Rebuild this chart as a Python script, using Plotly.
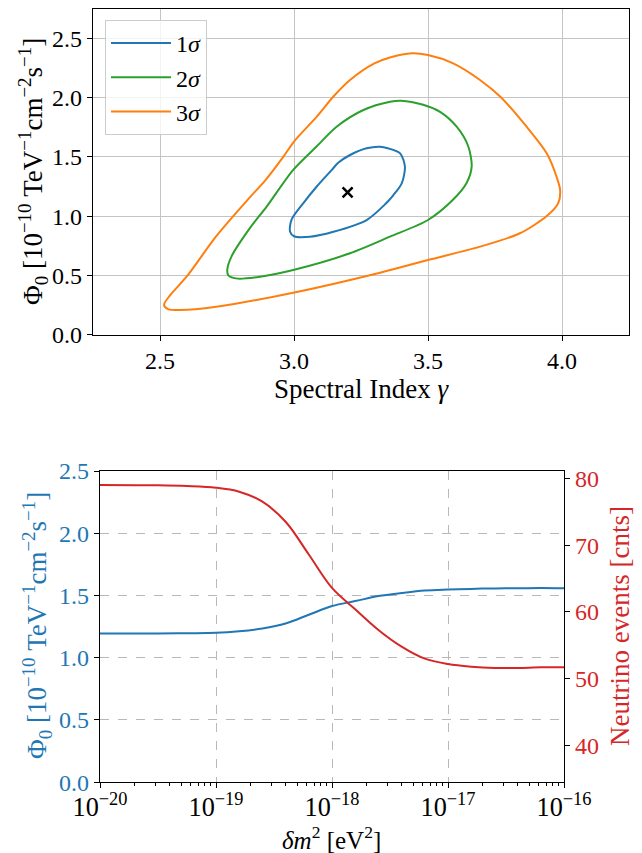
import plotly.graph_objects as go

W, H = 642, 853

# ---------------- top panel: confidence contours ----------------
gamma_1s = [2.985, 2.991, 3.035, 3.085, 3.141, 3.165, 3.209, 3.271, 3.321, 3.350, 3.396, 3.414, 3.402, 3.371, 3.340, 3.271, 3.147, 3.060, 3.000, 2.985]
phi_1s   = [0.870, 0.970, 1.110, 1.250, 1.390, 1.450, 1.516, 1.573, 1.586, 1.573, 1.530, 1.417, 1.277, 1.178, 1.100, 0.967, 0.868, 0.826, 0.830, 0.870]

gamma_2s = [2.751, 2.767, 2.836, 2.898, 2.997, 3.085, 3.159, 3.259, 3.358, 3.400, 3.482, 3.545, 3.607, 3.650, 3.663, 3.644, 3.594, 3.500, 3.358, 3.209, 2.997, 2.873, 2.790, 2.755, 2.751]
phi_2s   = [0.545, 0.660, 0.900, 1.080, 1.390, 1.590, 1.755, 1.896, 1.966, 1.975, 1.940, 1.880, 1.755, 1.590, 1.420, 1.280, 1.140, 0.967, 0.826, 0.686, 0.545, 0.488, 0.472, 0.500, 0.545]

gamma_3s = [2.515, 2.537, 2.600, 2.710, 2.836, 2.892, 2.960, 3.000, 3.085, 3.147, 3.209, 3.300, 3.358, 3.440, 3.500, 3.594, 3.694, 3.769, 3.868, 3.943, 3.980, 3.993, 3.986, 3.943, 3.843, 3.694, 3.500, 3.321, 2.997, 2.710, 2.575, 2.530, 2.515]
phi_3s   = [0.250, 0.330, 0.490, 0.830, 1.160, 1.300, 1.500, 1.630, 1.840, 2.010, 2.150, 2.290, 2.340, 2.375, 2.360, 2.290, 2.150, 2.010, 1.755, 1.530, 1.330, 1.220, 1.110, 1.000, 0.855, 0.742, 0.629, 0.522, 0.353, 0.235, 0.207, 0.215, 0.250]

best_gamma = [3.2]
best_phi = [1.2]

contour_labels = ["1<i>σ</i>", "2<i>σ</i>", "3<i>σ</i>"]
contour_colors = ["#1f77b4", "#2ca02c", "#ff7f0e"]

x_ticks_top = [2.5, 3.0, 3.5, 4.0]
y_ticks_top = [0.0, 0.5, 1.0, 1.5, 2.0, 2.5]

# ---------------- bottom panel: vs delta m^2 ----------------
dm2 = [1e-20, 3.16e-20, 5.62e-20, 1e-19, 1.585e-19, 2.512e-19, 3.981e-19, 6.31e-19, 1e-18,
       1.585e-18, 2.512e-18, 3.981e-18, 6.31e-18, 1e-17, 1.585e-17, 2.512e-17, 3.981e-17, 6.31e-17, 1e-16]
phi_fit = [1.195, 1.195, 1.197, 1.200, 1.213, 1.235, 1.275, 1.345, 1.415, 1.455, 1.495, 1.520, 1.540, 1.548, 1.553, 1.557, 1.558, 1.560, 1.558]
events  = [79.0, 78.95, 78.85, 78.6, 78.0, 76.5, 73.5, 68.6, 63.6, 60.4, 57.3, 54.8, 53.0, 52.2, 51.8, 51.6, 51.6, 51.7, 51.7]

y_ticks_left = [0.0, 0.5, 1.0, 1.5, 2.0, 2.5]
y_ticks_right = [40, 50, 60, 70, 80]

BLUE, RED = "#1f77b4", "#d62728"
FONT = "Liberation Serif"
TICK = 24
LAB = 27

fig = go.Figure()

for g, p, lab, col in zip([gamma_1s, gamma_2s, gamma_3s], [phi_1s, phi_2s, phi_3s], contour_labels, contour_colors):
    fig.add_trace(go.Scatter(x=g, y=p, mode="lines", name=lab,
                             line=dict(color=col, width=2, shape="spline", smoothing=0.8),
                             xaxis="x", yaxis="y"))

fig.add_trace(go.Scatter(x=best_gamma, y=best_phi, mode="markers", showlegend=False,
                         marker=dict(symbol="x-thin", size=10, color="black",
                                     line=dict(width=2.5, color="black")),
                         xaxis="x", yaxis="y"))

fig.add_trace(go.Scatter(x=dm2, y=phi_fit, mode="lines", showlegend=False,
                         line=dict(color=BLUE, width=2, shape="spline"),
                         xaxis="x2", yaxis="y2"))
fig.add_trace(go.Scatter(x=dm2, y=events, mode="lines", showlegend=False,
                         line=dict(color=RED, width=2, shape="spline"),
                         xaxis="x2", yaxis="y3"))

def px(x):
    return x / W

def py(y):
    return 1 - y / H

axis_common = dict(showline=True, linecolor="black", linewidth=1.3, mirror=True,
                   ticks="outside", ticklen=5, tickwidth=1.2, tickcolor="black",
                   zeroline=False, automargin=False,
                   tickfont=dict(family=FONT, size=TICK, color="black"))

fig.update_layout(
    width=W, height=H,
    margin=dict(l=0, r=0, t=0, b=0, pad=0, autoexpand=False),
    paper_bgcolor="white", plot_bgcolor="white",
    font=dict(family=FONT, size=TICK, color="black"),
    xaxis=dict(domain=[px(93), px(629)], range=[2.25, 4.25], anchor="y",
               tickvals=x_ticks_top, ticktext=[f"{v:.1f}" for v in x_ticks_top],
               showgrid=True, gridcolor="#c4c4c4", gridwidth=1.4, **axis_common),
    yaxis=dict(domain=[py(334.5), py(8.9)], range=[0, 2.75], anchor="x",
               tickvals=y_ticks_top, ticktext=[f"{v:.1f}" for v in y_ticks_top],
               showgrid=True, gridcolor="#c4c4c4", gridwidth=1.4, **axis_common),
    xaxis2=dict(domain=[px(100), px(564)], type="log", range=[-20, -16], anchor="y2",
                dtick=1, exponentformat="power", ticklabelstandoff=-3,
                minor=dict(ticks="outside", ticklen=3, tickcolor="black", dtick="D1", showgrid=False),
                showgrid=True, gridcolor="#b8b8b8", gridwidth=1.3, griddash="dash",
                **{**axis_common, "tickfont": dict(family=FONT, size=21, color="black")}),
    yaxis2=dict(domain=[py(782.2), py(471)], range=[0, 2.5], anchor="x2",
                tickvals=y_ticks_left, ticktext=[f"{v:.1f}" for v in y_ticks_left],
                showgrid=True, gridcolor="#b8b8b8", gridwidth=1.3, griddash="dash",
                showline=True, linecolor="black", linewidth=1.3, mirror=False,
                ticks="outside", ticklen=5, tickwidth=1.2, tickcolor="black", zeroline=False,
                automargin=False,
                tickfont=dict(family=FONT, size=TICK, color=BLUE)),
    yaxis3=dict(range=[34.5, 81.1], overlaying="y2", side="right", anchor="x2",
                tickvals=y_ticks_right, showgrid=False,
                showline=True, linecolor="black", linewidth=1.3,
                ticks="outside", ticklen=5, tickwidth=1.2, tickcolor="black", zeroline=False,
                automargin=False,
                tickfont=dict(family=FONT, size=TICK, color=RED)),
    legend=dict(x=px(105), y=py(20), xanchor="left", yanchor="top",
                bgcolor="rgba(255,255,255,0.8)", bordercolor="#cccccc", borderwidth=1,
                itemwidth=60,
                font=dict(family=FONT, size=24, color="black")),
)

annots = [
    dict(text="Spectral Index <i>γ</i>", x=px(361), y=py(389), textangle=0, size=LAB),
    dict(text="Φ<sub>0</sub> [10<sup>−10</sup> TeV<sup>−1</sup>cm<sup>−2</sup>s<sup>−1</sup>]",
         x=px(33), y=py(172), textangle=-90, size=LAB),
    dict(text="<i>δm</i><sup>2</sup> [eV<sup>2</sup>]", x=px(332), y=py(838), textangle=0, size=25),
    dict(text="Φ<sub>0</sub> [10<sup>−10</sup> TeV<sup>−1</sup>cm<sup>−2</sup>s<sup>−1</sup>]",
         x=px(37), y=py(626), textangle=-90, color=BLUE, size=LAB),
    dict(text="Neutrino events [cnts]", x=px(620), y=py(626), textangle=-90, color=RED, size=LAB),
]
for a in annots:
    col = a.pop("color", "black")
    sz = a.pop("size")
    fig.add_annotation(xref="paper", yref="paper", xanchor="center", yanchor="middle",
                       showarrow=False, font=dict(family=FONT, size=sz, color=col), **a)

fig.write_html("out.html")
